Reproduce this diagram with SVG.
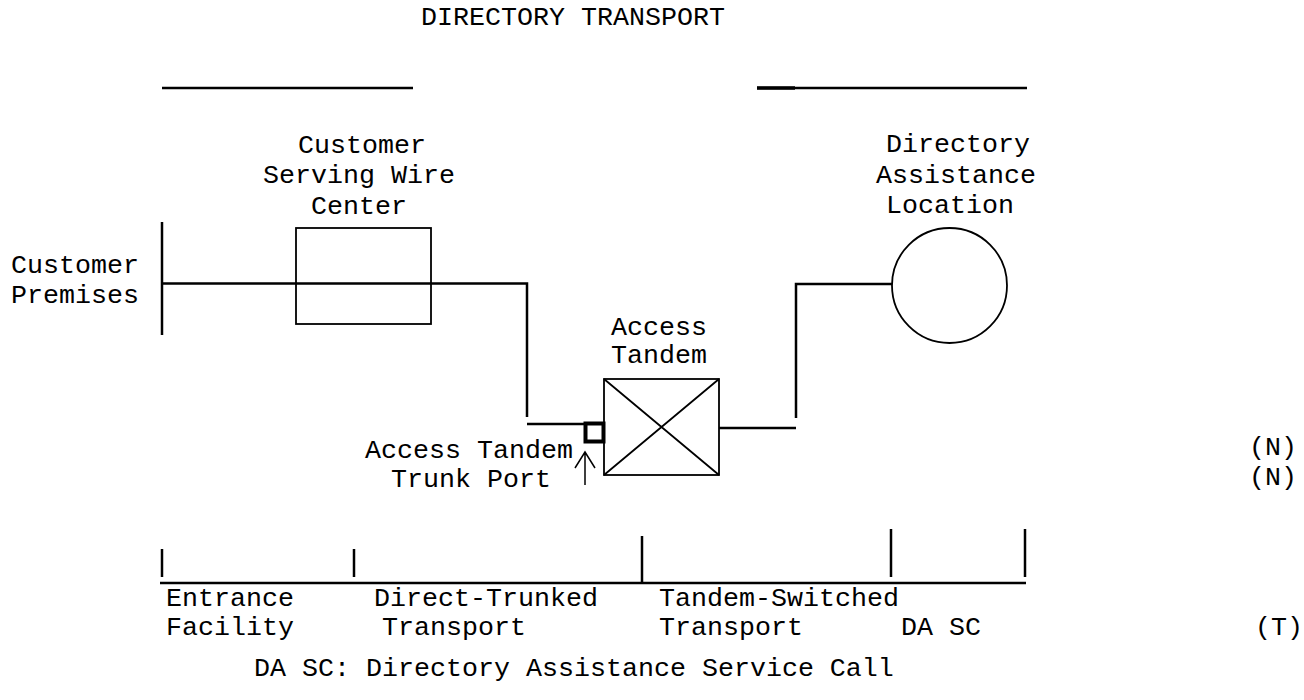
<svg xmlns="http://www.w3.org/2000/svg" width="1304" height="700" viewBox="0 0 1304 700">
<style>
text{font-family:"Liberation Mono","Courier New",monospace;font-size:26.67px;fill:#000}
.ln{fill:none;stroke:#000;stroke-width:2.5}
.thin{fill:none;stroke:#000;stroke-width:1.8}
</style>
<rect width="1304" height="700" fill="#fff"/>
<text x="421" y="25">DIRECTORY TRANSPORT</text>
<g id="top-lines">
<line class="ln" x1="162" y1="88" x2="413" y2="88"/>
<line class="ln" x1="757" y1="88" x2="1027" y2="88"/>
<line x1="757" y1="88" x2="795" y2="88" stroke="#000" stroke-width="3.5"/>
</g>
<g id="customer-premises">
<line class="ln" x1="162" y1="222" x2="162" y2="335"/>
<text x="11" y="273">Customer</text>
<text x="11" y="303">Premises</text>
</g>
<g id="customer-serving-wire-center">
<rect class="thin" x="296" y="228" width="135" height="96"/>
<text x="298" y="153">Customer</text>
<text x="263" y="183">Serving Wire</text>
<text x="311" y="214">Center</text>
</g>
<g id="access-tandem">
<rect class="thin" x="604" y="379" width="115" height="96"/>
<path class="thin" d="M604 379 L719 475 M719 379 L604 475"/>
<text x="611" y="335">Access</text>
<text x="611" y="363">Tandem</text>
</g>
<g id="trunk-port">
<rect x="585.5" y="423.5" width="18" height="18" fill="none" stroke="#000" stroke-width="4"/>
<text x="365" y="458">Access Tandem</text>
<text x="391" y="487">Trunk Port</text>
<path fill="none" stroke="#000" stroke-width="1.5" d="M585 452 V485 M575 468 L585 452 L595 468"/>
</g>
<g id="directory-assistance-location">
<circle class="thin" cx="949.5" cy="285.5" r="57.5"/>
<text x="886" y="152">Directory</text>
<text x="876" y="183">Assistance</text>
<text x="886" y="213">Location</text>
</g>
<g id="connectors">
<path class="ln" d="M162 283.5 H527 V417"/>
<line class="ln" x1="527" y1="424" x2="584" y2="424"/>
<line class="ln" x1="719" y1="428" x2="796" y2="428"/>
<path class="ln" d="M796 418 V284 H892"/>
</g>
<g id="segments">
<line class="ln" x1="160" y1="583" x2="1026" y2="583" stroke-width="3"/>
<line class="ln" x1="162" y1="549" x2="162" y2="577"/>
<line class="ln" x1="354" y1="549" x2="354" y2="577"/>
<line class="ln" x1="642" y1="536" x2="642" y2="583"/>
<line class="ln" x1="891" y1="529" x2="891" y2="577"/>
<line class="ln" x1="1025" y1="529" x2="1025" y2="577"/>
<text x="166" y="606">Entrance</text>
<text x="166" y="635">Facility</text>
<text x="374" y="606">Direct-Trunked</text>
<text x="382" y="635">Transport</text>
<text x="659" y="606">Tandem-Switched</text>
<text x="659" y="635">Transport</text>
<text x="901" y="635">DA SC</text>
</g>
<g id="marks">
<text x="1249" y="455">(N)</text>
<text x="1249" y="485">(N)</text>
<text x="1255" y="635">(T)</text>
</g>
<text x="254" y="676">DA SC: Directory Assistance Service Call</text>
</svg>
